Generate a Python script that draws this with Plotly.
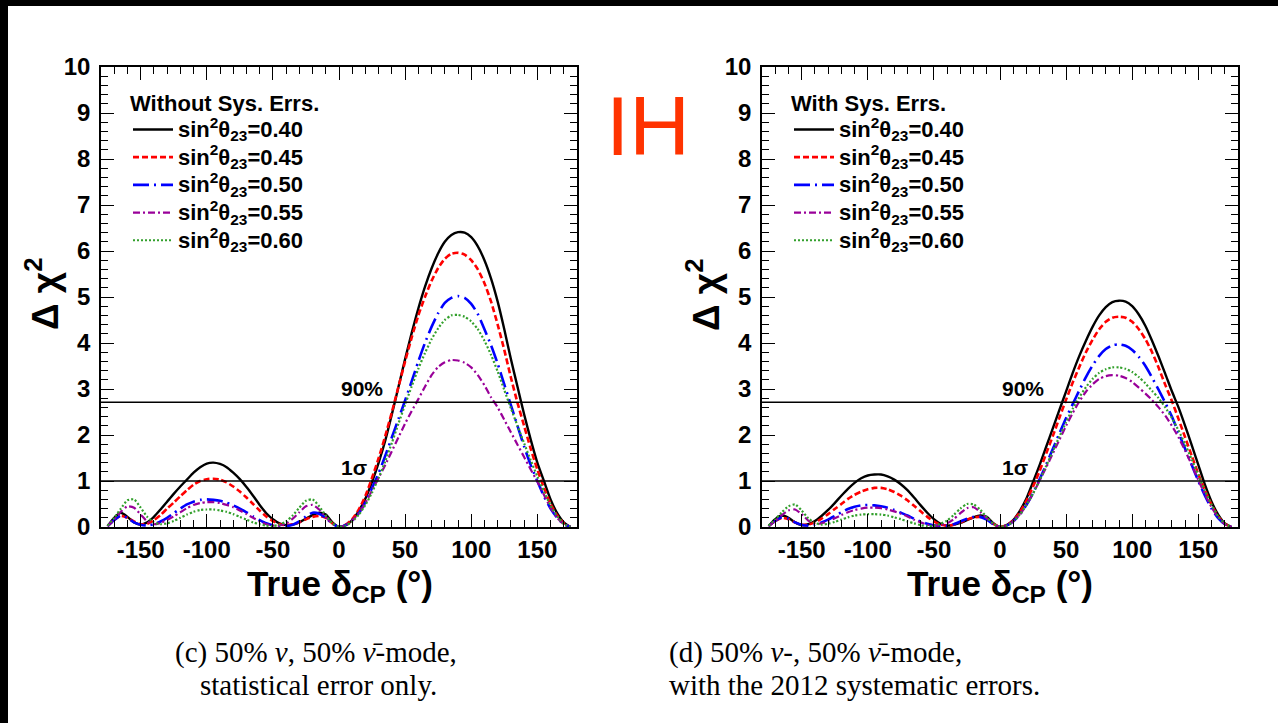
import plotly.graph_objects as go

W, H = 1278, 723

delta_cp = list(range(-175, 180, 5))
series_labels = ["0.40", "0.45", "0.50", "0.55", "0.60"]

# ---- panel (c): statistical error only ----
c_040 = [0.02, 0.2, 0.31, 0.22, 0.1, 0.05, 0.1, 0.22, 0.38, 0.55, 0.72, 0.88, 1.03, 1.18, 1.3, 1.38, 1.40, 1.37,
         1.3, 1.18, 1.04, 0.87, 0.68, 0.48, 0.3, 0.17, 0.08, 0.04, 0.05, 0.1, 0.18, 0.26, 0.31, 0.27, 0.1,
         0.0, 0.04, 0.15, 0.35, 0.62, 0.98, 1.40, 1.88, 2.45, 3.05, 3.65, 4.22, 4.75, 5.22, 5.62, 5.95, 6.2,
         6.35, 6.41, 6.40, 6.3, 6.1, 5.8, 5.4, 4.9, 4.3, 3.65, 3.05, 2.45, 1.9, 1.4, 1.0, 0.6, 0.3, 0.1, 0.0]
c_045 = [0.02, 0.15, 0.24, 0.2, 0.12, 0.06, 0.07, 0.15, 0.26, 0.4, 0.53, 0.67, 0.8, 0.92, 1.0, 1.04, 1.05, 1.03,
         0.97, 0.88, 0.77, 0.64, 0.5, 0.36, 0.23, 0.13, 0.06, 0.04, 0.06, 0.1, 0.17, 0.22, 0.24, 0.2, 0.08,
         0.0, 0.05, 0.17, 0.38, 0.68, 1.07, 1.5, 1.98, 2.5, 3.05, 3.6, 4.12, 4.6, 5.0, 5.35, 5.63, 5.83,
         5.94, 5.96, 5.92, 5.8, 5.6, 5.3, 4.9, 4.4, 3.85, 3.25, 2.7, 2.2, 1.7, 1.25, 0.85, 0.5, 0.25, 0.08, 0.0]
c_050 = [0.02, 0.15, 0.25, 0.2, 0.1, 0.05, 0.03, 0.06, 0.12, 0.2, 0.3, 0.4, 0.49, 0.55, 0.59, 0.6, 0.59, 0.57,
         0.53, 0.47, 0.4, 0.32, 0.23, 0.15, 0.08, 0.04, 0.02, 0.02, 0.05, 0.12, 0.23, 0.31, 0.29, 0.2, 0.07,
         0.0, 0.04, 0.14, 0.3, 0.54, 0.85, 1.17, 1.55, 1.95, 2.35, 2.75, 3.17, 3.6, 4.0, 4.35, 4.65, 4.87,
         4.98, 5.02, 4.98, 4.85, 4.63, 4.3, 3.95, 3.55, 3.1, 2.65, 2.2, 1.75, 1.35, 1.0, 0.67, 0.4, 0.2, 0.06, 0.0]
c_055 = [0.02, 0.17, 0.33, 0.45, 0.42, 0.27, 0.12, 0.06, 0.09, 0.15, 0.23, 0.32, 0.41, 0.48, 0.52, 0.54, 0.54, 0.52,
         0.48, 0.43, 0.36, 0.28, 0.2, 0.12, 0.06, 0.03, 0.03, 0.08, 0.18, 0.32, 0.45, 0.48, 0.38, 0.22, 0.07,
         0.0, 0.04, 0.14, 0.3, 0.52, 0.8, 1.07, 1.35, 1.65, 1.95, 2.25, 2.52, 2.78, 3.05, 3.3, 3.48, 3.58,
         3.63, 3.62, 3.57, 3.47, 3.3, 3.08, 2.82, 2.6, 2.33, 2.06, 1.79, 1.52, 1.25, 0.99, 0.7, 0.42, 0.2, 0.06, 0.0]
c_060 = [0.03, 0.2, 0.4, 0.58, 0.6, 0.42, 0.22, 0.1, 0.06, 0.08, 0.13, 0.2, 0.27, 0.33, 0.37, 0.38, 0.38, 0.36,
         0.33, 0.28, 0.22, 0.16, 0.1, 0.06, 0.03, 0.02, 0.05, 0.12, 0.25, 0.42, 0.57, 0.6, 0.45, 0.25, 0.08,
         0.0, 0.03, 0.12, 0.27, 0.48, 0.75, 1.07, 1.43, 1.83, 2.25, 2.66, 3.06, 3.44, 3.78, 4.08, 4.32, 4.5,
         4.6, 4.61, 4.57, 4.47, 4.3, 4.05, 3.74, 3.38, 2.98, 2.58, 2.2, 1.82, 1.45, 1.1, 0.77, 0.47, 0.23, 0.07, 0.0]

# ---- panel (d): with 2012 systematic errors ----
d_040 = [0.02, 0.17, 0.25, 0.2, 0.1, 0.04, 0.06, 0.13, 0.24, 0.37, 0.52, 0.68, 0.83, 0.96, 1.06, 1.12, 1.14, 1.14,
         1.1, 1.03, 0.93, 0.8, 0.64, 0.47, 0.31, 0.17, 0.07, 0.03, 0.05, 0.09, 0.15, 0.21, 0.25, 0.22, 0.08,
         0.0, 0.04, 0.15, 0.35, 0.62, 0.98, 1.35, 1.75, 2.15, 2.55, 2.95, 3.35, 3.72, 4.05, 4.35, 4.6, 4.78,
         4.89, 4.92, 4.9, 4.8, 4.62, 4.37, 4.05, 3.7, 3.33, 2.95, 2.6, 2.2, 1.78, 1.35, 0.92, 0.55, 0.27, 0.08, 0.0]
d_045 = [0.02, 0.13, 0.2, 0.17, 0.1, 0.05, 0.05, 0.1, 0.18, 0.28, 0.39, 0.5, 0.61, 0.7, 0.77, 0.82, 0.85, 0.85,
         0.82, 0.76, 0.68, 0.58, 0.46, 0.34, 0.22, 0.12, 0.05, 0.03, 0.05, 0.1, 0.16, 0.21, 0.22, 0.18, 0.07,
         0.0, 0.04, 0.14, 0.32, 0.57, 0.88, 1.22, 1.6, 1.98, 2.38, 2.77, 3.14, 3.48, 3.8, 4.07, 4.3, 4.46,
         4.55, 4.57, 4.55, 4.46, 4.3, 4.08, 3.8, 3.46, 3.09, 2.74, 2.35, 1.95, 1.55, 1.15, 0.8, 0.48, 0.23, 0.07, 0.0]
d_050 = [0.02, 0.13, 0.21, 0.18, 0.1, 0.05, 0.03, 0.05, 0.1, 0.16, 0.24, 0.32, 0.39, 0.44, 0.47, 0.48, 0.47, 0.45,
         0.42, 0.37, 0.31, 0.25, 0.18, 0.12, 0.07, 0.04, 0.02, 0.03, 0.06, 0.12, 0.18, 0.22, 0.22, 0.16, 0.06,
         0.0, 0.03, 0.12, 0.27, 0.48, 0.74, 1.04, 1.36, 1.7, 2.04, 2.37, 2.67, 2.97, 3.26, 3.51, 3.72, 3.87,
         3.95, 3.97, 3.94, 3.85, 3.7, 3.5, 3.25, 2.98, 2.7, 2.4, 2.05, 1.7, 1.35, 1.0, 0.68, 0.4, 0.19, 0.06, 0.0]
d_055 = [0.02, 0.13, 0.26, 0.36, 0.38, 0.28, 0.14, 0.07, 0.08, 0.13, 0.19, 0.26, 0.32, 0.37, 0.4, 0.42, 0.42, 0.41,
         0.38, 0.34, 0.29, 0.23, 0.16, 0.1, 0.05, 0.03, 0.04, 0.08, 0.17, 0.3, 0.41, 0.43, 0.33, 0.19, 0.06,
         0.0, 0.03, 0.12, 0.27, 0.48, 0.73, 1.01, 1.3, 1.6, 1.9, 2.2, 2.48, 2.73, 2.94, 3.1, 3.22, 3.28,
         3.3, 3.29, 3.24, 3.15, 3.03, 2.9, 2.76, 2.6, 2.42, 2.2, 1.95, 1.66, 1.35, 1.02, 0.71, 0.43, 0.21, 0.06, 0.0]
d_060 = [0.03, 0.17, 0.32, 0.45, 0.49, 0.36, 0.19, 0.09, 0.05, 0.07, 0.11, 0.16, 0.21, 0.25, 0.27, 0.28, 0.28, 0.27,
         0.25, 0.21, 0.17, 0.12, 0.08, 0.04, 0.02, 0.03, 0.07, 0.14, 0.26, 0.4, 0.5, 0.49, 0.38, 0.21, 0.07,
         0.0, 0.03, 0.12, 0.27, 0.48, 0.73, 1.02, 1.33, 1.65, 1.97, 2.28, 2.57, 2.82, 3.04, 3.22, 3.35, 3.43,
         3.47, 3.47, 3.44, 3.37, 3.26, 3.12, 2.96, 2.8, 2.6, 2.37, 2.1, 1.8, 1.47, 1.13, 0.79, 0.48, 0.23, 0.07, 0.0]

cl_levels = [1.0, 2.71]
cl_labels = ["1σ", "90%"]

x_tickvals = [-150, -100, -50, 0, 50, 100, 150]
x_ticktext = ["-150", "-100", "-50", "0", "50", "100", "150"]
y_tickvals = list(range(0, 11))

colors = ["#000000", "#ff0000", "#0000ff", "#990099", "#33a02c"]
dashes = ["solid", "6px,3px", "16px,5px,2px,5px", "7px,3px,2px,3px", "2px,2px"]
widths = [2.4, 2.6, 2.6, 2.2, 2.2]

SANS = "Liberation Sans"
SERIF = "Liberation Serif"

fig = go.Figure()

panels = [
    ("x", "y", "legend", [c_040, c_045, c_050, c_055, c_060]),
    ("x2", "y2", "legend2", [d_040, d_045, d_050, d_055, d_060]),
]
for xa, ya, lg, sets in panels:
    for lab, vals, col, dsh, wd in zip(series_labels, sets, colors, dashes, widths):
        fig.add_trace(go.Scatter(
            x=delta_cp, y=vals, mode="lines", xaxis=xa, yaxis=ya, legend=lg,
            line=dict(color=col, dash=dsh, width=wd, shape="spline", smoothing=0.6),
            name='<span style="font-size:22px">sin<sup>2</sup>θ<sub>23</sub>=' + lab + "</span>",
        ))


def px(x):
    return x / W


def py(y):
    return 1 - y / H


dom_x1 = [px(101), px(577)]
dom_x2 = [px(762), px(1238)]
dom_y = [py(527), py(67)]

tickfont = dict(family=SANS, size=24, color="black", weight="bold")
common_x = dict(range=[-180, 180], tickvals=x_tickvals, ticktext=x_ticktext, ticks="inside",
                ticklen=13, tickwidth=1, tickcolor="black", showline=True, linecolor="black",
                linewidth=1.5, mirror="ticks", showgrid=False, zeroline=False, tickfont=tickfont,
                minor=dict(dtick=10, tick0=0, ticks="inside", ticklen=7, tickcolor="black", tickwidth=1),
                ticklabelstandoff=0, automargin=False)
common_y = dict(range=[0, 10], tickvals=y_tickvals, ticks="inside", ticklen=13, tickwidth=1,
                tickcolor="black", showline=True, linecolor="black", linewidth=1.5, mirror="ticks",
                showgrid=False, zeroline=False, tickfont=tickfont,
                minor=dict(dtick=0.2, tick0=0, ticks="inside", ticklen=7, tickcolor="black", tickwidth=1),
                ticklabelstandoff=4, automargin=False)

fig.update_layout(
    template="none",
    width=W, height=H, margin=dict(l=0, r=0, t=0, b=0, autoexpand=False),
    paper_bgcolor="white", plot_bgcolor="white", showlegend=True,
    xaxis=dict(domain=dom_x1, anchor="y", **common_x),
    yaxis=dict(domain=dom_y, anchor="x", **common_y),
    xaxis2=dict(domain=dom_x2, anchor="y2", **common_x),
    yaxis2=dict(domain=dom_y, anchor="x2", **common_y),
)

leg_common = dict(bgcolor="rgba(0,0,0,0)", borderwidth=0, xanchor="left", yanchor="top",
                  font=dict(family=SANS, size=19, color="black", weight="bold"),
                  tracegroupgap=0, itemwidth=40)
fig.update_layout(
    legend=dict(x=px(128), y=py(82),
                title=dict(text="Without Sys. Errs.", font=dict(family=SANS, size=22, weight="bold")),
                **leg_common),
    legend2=dict(x=px(789), y=py(82),
                 title=dict(text="With Sys. Errs.", font=dict(family=SANS, size=22, weight="bold")),
                 **leg_common),
)

# Confidence-level lines and labels
for xa, ya in [("x", "y"), ("x2", "y2")]:
    for lev, lab in zip(cl_levels, cl_labels):
        fig.add_shape(type="line", xref=xa + " domain", yref=ya, x0=0, x1=1, y0=lev, y1=lev,
                      line=dict(color="black", width=1.5))
        fig.add_annotation(x=0.3, y=lev + 0.3, xref=xa, yref=ya, text=lab, showarrow=False,
                           xanchor="left", yanchor="middle",
                           font=dict(family=SANS, size=21, color="black", weight="bold"))

# Axis titles
for cx in [340, 1000]:
    fig.add_annotation(x=px(cx), y=py(586), xref="paper", yref="paper", showarrow=False,
                       text="True δ<sub>CP</sub> (°)", xanchor="center", yanchor="middle",
                       font=dict(family=SANS, size=35, color="black", weight="bold"))
for cx in [42, 703]:
    fig.add_annotation(x=px(cx), y=py(294), xref="paper", yref="paper", showarrow=False,
                       text="Δ χ<sup>2</sup>", textangle=-90, xanchor="center", yanchor="middle",
                       font=dict(family=SANS, size=37, color="black", weight="bold"))

# IH label
fig.add_annotation(x=px(648), y=py(126), xref="paper", yref="paper", showarrow=False,
                   text="IH", xanchor="center", yanchor="middle",
                   font=dict(family=SANS, size=84, color="#ff3300"))

# Captions
cap_font = dict(family=SERIF, size=29, color="black")
fig.add_annotation(x=px(316), y=py(652), xref="paper", yref="paper", showarrow=False,
                   text="(c) 50% <i>ν</i>, 50% <i>ν̄</i>-mode,", xanchor="center", yanchor="middle",
                   font=cap_font)
fig.add_annotation(x=px(318), y=py(685), xref="paper", yref="paper", showarrow=False,
                   text="statistical error only.", xanchor="center", yanchor="middle", font=cap_font)
fig.add_annotation(x=px(667), y=py(652), xref="paper", yref="paper", showarrow=False,
                   text="(d) 50% <i>ν</i>-, 50% <i>ν̄</i>-mode,", xanchor="left", yanchor="middle",
                   font=cap_font)
fig.add_annotation(x=px(667), y=py(685), xref="paper", yref="paper", showarrow=False,
                   text="with the 2012 systematic errors.", xanchor="left", yanchor="middle",
                   font=cap_font)

# Black scan borders
fig.add_shape(type="rect", xref="paper", yref="paper", x0=0, x1=1, y0=py(6), y1=1,
              fillcolor="black", line=dict(width=0), layer="above")
fig.add_shape(type="rect", xref="paper", yref="paper", x0=0, x1=px(8), y0=0, y1=1,
              fillcolor="black", line=dict(width=0), layer="above")

fig.write_html("out.html", config={"displayModeBar": False},
               post_script="document.body.style.margin='0px';document.body.style.overflow='hidden';")
